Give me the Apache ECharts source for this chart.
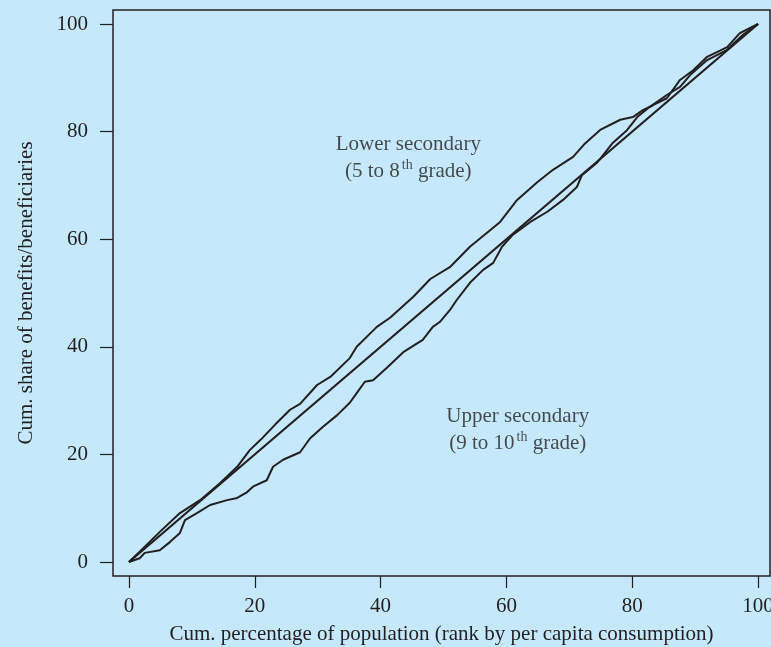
<!DOCTYPE html>
<html>
<head>
<meta charset="utf-8">
<script src="https://cdn.jsdelivr.net/npm/echarts@6/dist/echarts.min.js"></script>
<style>
html,body{margin:0;padding:0;background:#c5e8fa;}
#c{width:771px;height:647px;}
</style>
</head>
<body>
<div id="c"></div>
<script>
// Tick values
const tickValues = [0, 20, 40, 60, 80, 100];

// Line of equality
const equalityX = [0, 100];
const equalityY = [0, 100];

// Lower secondary (5 to 8th grade)
const lowerX = [0, 1.7, 4.9, 8.1, 11.3, 14.5, 17.2, 19.2, 21, 23.2, 25.6, 27.2, 29.9, 32, 35.1, 36.2, 39.4, 41.5, 45.2, 47.9, 51, 54.2, 59, 61.7, 64.9, 67.4, 70.6, 72.5, 74.9, 78.1, 80.1, 81.7, 83.3, 85.5, 87.6, 89.7, 91.9, 95.1, 97.1, 100];
const lowerY = [0, 1.9, 5.6, 9.1, 11.5, 14.7, 17.7, 20.8, 22.8, 25.5, 28.3, 29.4, 32.9, 34.4, 37.9, 40, 43.7, 45.4, 49.3, 52.6, 54.8, 58.6, 63.2, 67.3, 70.6, 72.9, 75.3, 77.8, 80.3, 82.2, 82.7, 84, 84.9, 86.2, 89.6, 91.4, 93.9, 95.7, 98.3, 100];

// Upper secondary (9 to 10th grade)
const upperX = [0, 1.7, 2.5, 4.9, 6.5, 8.1, 8.9, 10.8, 12.9, 15.6, 17.2, 18.8, 19.7, 21.9, 22.9, 24.5, 27.2, 28.8, 30.8, 33.1, 35.1, 36.2, 37.5, 38.8, 41, 43.6, 46.7, 48.3, 49.4, 51, 52.1, 54.2, 56.3, 57.9, 59.3, 61, 63.8, 66.5, 69, 71.2, 72, 74.4, 76.9, 79.2, 80.8, 82.8, 85.5, 87.6, 89.2, 91.9, 95.1, 97.6, 100];
const upperY = [0, 0.7, 1.7, 2.2, 3.7, 5.4, 7.8, 9.1, 10.6, 11.5, 11.9, 13, 14, 15.2, 17.7, 19, 20.4, 23, 25.1, 27.3, 29.6, 31.4, 33.5, 33.8, 36.1, 39, 41.3, 43.7, 44.6, 46.8, 48.7, 51.9, 54.3, 55.6, 58.6, 60.8, 63.2, 65.1, 67.3, 69.7, 71.9, 74.2, 77.9, 80.3, 82.7, 84.6, 86.8, 88.3, 90.5, 93.3, 95.2, 98, 100];

// Annotation labels (anchored in data coordinates)
const annotations = [
  { x: 44.4, y: 75.1, line1: 'Lower secondary', pre: '(5 to 8', sup: 'th', post: ' grade)' },
  { x: 61.8, y: 24.5, line1: 'Upper secondary', pre: '(9 to 10', sup: 'th', post: ' grade)' }
];

const zip = (xs, ys) => xs.map((x, i) => [x, ys[i]]);
const FONT = '"Liberation Serif", "DejaVu Serif", serif';
const INK = '#231f20';

const chart = echarts.init(document.getElementById('c'), null, { renderer: 'canvas' });

const lineStyle = { color: INK, width: 2 };

chart.setOption({
  backgroundColor: '#c5e8fa',
  animation: false,
  grid: {
    left: 113, right: 1, top: 10, bottom: 71,
    show: true, borderColor: INK, borderWidth: 1.5,
    backgroundColor: 'transparent',
    containLabel: false, outerBoundsMode: 'none'
  },
  xAxis: {
    type: 'value', min: -2.54, max: 101.9,
    name: 'Cum. percentage of population (rank by per capita consumption)',
    nameLocation: 'middle', nameGap: 48,
    nameTextStyle: { fontFamily: FONT, fontSize: 21, color: INK },
    axisLine: { show: false, onZero: false },
    axisTick: { show: true, inside: false, length: 12, customValues: tickValues, lineStyle: { color: INK, width: 1.2 } },
    axisLabel: { customValues: tickValues, margin: 20, fontFamily: FONT, fontSize: 21, color: INK },
    splitLine: { show: false }
  },
  yAxis: {
    type: 'value', min: -2.6, max: 102.6,
    name: 'Cum. share of benefits/beneficiaries',
    nameLocation: 'middle', nameGap: 76,
    nameTextStyle: { fontFamily: FONT, fontSize: 21, color: INK },
    axisLine: { show: false, onZero: false },
    axisTick: { show: true, inside: false, length: 13, customValues: tickValues, lineStyle: { color: INK, width: 1.2 } },
    axisLabel: { customValues: tickValues, margin: 25, fontFamily: FONT, fontSize: 21, color: INK },
    splitLine: { show: false }
  },
  series: [
    { type: 'line', data: zip(equalityX, equalityY), showSymbol: false, lineStyle: { color: INK, width: 2.2 }, z: 3 },
    { type: 'line', data: zip(lowerX, lowerY), showSymbol: false, lineStyle: lineStyle, z: 3 },
    { type: 'line', data: zip(upperX, upperY), showSymbol: false, lineStyle: lineStyle, z: 3 },
    {
      type: 'scatter', symbolSize: 0, z: 5,
      data: annotations.map(a => ({
        value: [a.x, a.y],
        label: {
          show: true, position: 'inside', align: 'center', verticalAlign: 'middle',
          formatter: '{a|' + a.line1 + '}\n{a|' + a.pre + '}{s|' + a.sup + '}{a|' + a.post + '}',
          rich: {
            a: { fontFamily: FONT, fontSize: 21, color: INK, lineHeight: 27 },
            s: { fontFamily: FONT, fontSize: 14, color: INK, lineHeight: 27, verticalAlign: 'top', padding: [0, 0, 0, 2] }
          }
        }
      }))
    }
  ]
});
</script>
</body>
</html>
